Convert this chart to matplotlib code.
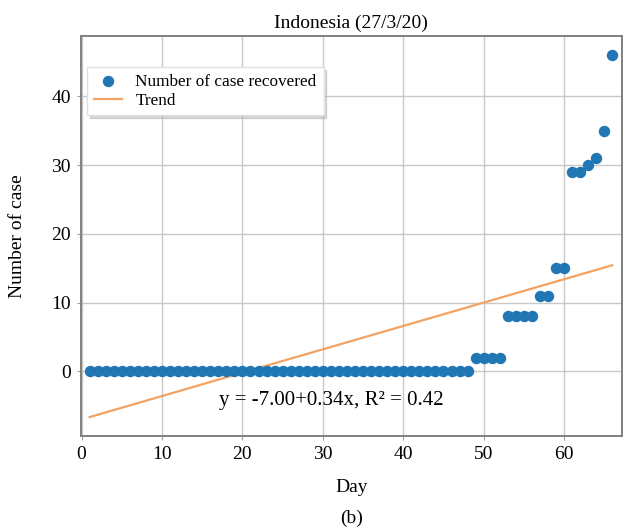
import matplotlib.pyplot as plt
import numpy as np

plt.rcParams['font.family'] = ['Liberation Serif', 'DejaVu Serif']

# 日ごとの回復者数
day = np.arange(1, 67)
recovered = [0] * 48 + [2, 2, 2, 2, 8, 8, 8, 8, 11, 11, 15, 15, 29, 29, 30, 31, 35, 46]
a, b, r2 = -7.00, 0.34, 0.42   # 近似直線 y = a + b x

fig = plt.figure(figsize=(6.36, 5.29), dpi=100)
ax = fig.add_axes([0.127, 0.176, 0.851, 0.756])

ax.scatter(day, recovered, s=52, color='#1f77b4', label='Number of case recovered', zorder=3)
ax.plot(day, a + b * day, color='#f3a261', lw=1.6, label='Trend', zorder=2)
ax.text(31, -4.2, f'y = {a:.2f}+{b:.2f}x, R² = {r2:.2f}', fontsize=15, ha='center', va='center')

ax.set_xlim(-0.1, 67.2)
ax.set_ylim(-9.4, 48.8)
ax.set_xticks([0, 10, 20, 30, 40, 50, 60])
ax.set_yticks([0, 10, 20, 30, 40])
ax.grid(color='#c8c8c8', lw=1.0)
ax.set_axisbelow(True)
for s in ax.spines.values():
    s.set_color('#808080')
    s.set_linewidth(1.4)
ax.tick_params(labelsize=14, length=3, color='#a0a0a0', pad=4)

ax.set_title('Indonesia (27/3/20)', fontsize=14, pad=6)
ax.set_xlabel('Day', fontsize=14, labelpad=12)
ax.set_ylabel('Number of case', fontsize=14, labelpad=18)
ax.legend(loc='upper left', bbox_to_anchor=(0.012, 0.9225), borderaxespad=0,
          fontsize=12.4, shadow={'color': '#b0b0b0'}, fancybox=False,
          handlelength=1.6, borderpad=0.4, labelspacing=0.15,
          edgecolor='#e0e0e0', framealpha=1)

fig.text(0.553, 0.012, '(b)', fontsize=14, ha='center')
fig.savefig('out.png')
